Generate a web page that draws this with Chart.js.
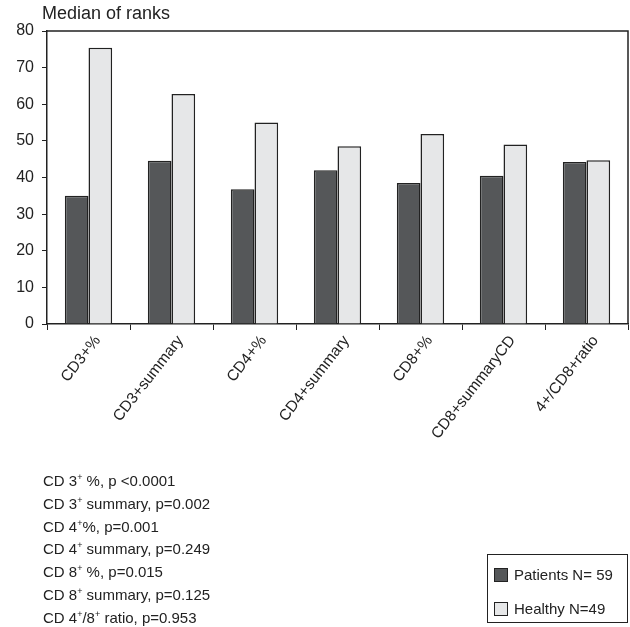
<!DOCTYPE html>
<html>
<head>
<meta charset="utf-8">
<script src="https://cdn.jsdelivr.net/npm/chart.js@4"></script>
<style>
  body { margin: 0; background: #fff; font-family: "Liberation Sans", Arial, sans-serif; color: #222; }
  #wrap { position: relative; width: 630px; height: 627px; }
  #notes { position: absolute; left: 43px; top: 470px; font-size: 15px; line-height: 22.8px; }
  #notes sup { font-size: 9px; vertical-align: 6px; line-height: 0; }
  #legend { position: absolute; left: 487px; top: 554px; width: 139px; height: 67px; border: 1px solid #222; font-size: 15px; }
  .item { position: absolute; left: 6px; display: flex; align-items: center; }
  .box { width: 14px; height: 14px; border: 1.5px solid #222; margin-right: 6px; box-sizing: border-box; }
</style>
</head>
<body>
<div id="wrap">
  <canvas id="chart" width="630" height="627"></canvas>
  <div id="notes">
    CD 3<sup>+</sup> %, p &lt;0.0001<br>
    CD 3<sup>+</sup> summary, p=0.002<br>
    CD 4<sup>+</sup>%, p=0.001<br>
    CD 4<sup>+</sup> summary, p=0.249<br>
    CD 8<sup>+</sup> %, p=0.015<br>
    CD 8<sup>+</sup> summary, p=0.125<br>
    CD 4<sup>+</sup>/8<sup>+</sup> ratio, p=0.953
  </div>
  <div id="legend">
    <div class="item" style="top:11px"><div class="box" style="background:#555759"></div>Patients N= 59</div>
    <div class="item" style="top:45px"><div class="box" style="background:#e6e7e8"></div>Healthy N=49</div>
  </div>
</div>
<script>
const categories = ["CD3+%", "CD3+summary", "CD4+%", "CD4+summary", "CD8+%", "CD8+summaryCD", "4+/CD8+ratio"];
const patients = [35.0, 44.6, 36.8, 42.0, 38.5, 40.5, 44.2];
const healthy = [75.4, 62.8, 55.0, 48.5, 51.9, 49.0, 44.7];
const yTicks = [0, 10, 20, 30, 40, 50, 60, 70, 80];

const font = "Liberation Sans";

// title above the axis and frame on the top/right
const extras = {
  id: "extras",
  afterDraw(chart) {
    const { ctx, chartArea } = chart;
    ctx.save();
    ctx.strokeStyle = "#222";
    ctx.lineWidth = 1.5;
    ctx.beginPath();
    ctx.moveTo(chartArea.left, chartArea.top);
    ctx.lineTo(chartArea.right, chartArea.top);
    ctx.lineTo(chartArea.right, chartArea.bottom);
    ctx.stroke();
    ctx.fillStyle = "#222";
    ctx.font = "18px " + font;
    ctx.textBaseline = "middle";
    ctx.fillText("Median of ranks", 42, 14);
    ctx.restore();
  }
};

new Chart(document.getElementById("chart"), {
  type: "bar",
  data: {
    labels: categories,
    datasets: [
      { label: "Patients N= 59", data: patients, backgroundColor: "#555759", borderColor: "#222", borderWidth: 1.5 },
      { label: "Healthy N=49", data: healthy, backgroundColor: "#e6e7e8", borderColor: "#222", borderWidth: 1.5 }
    ]
  },
  options: {
    responsive: false,
    animation: false,
    layout: { padding: { top: 31, right: 2 } },
    datasets: { bar: { categoryPercentage: 0.57, barPercentage: 1.0 } },
    plugins: { legend: { display: false }, tooltip: { enabled: false } },
    scales: {
      x: {
        afterFit(s) { s.height = 303; },
        grid: { offset: true, drawOnChartArea: false, color: "#222", tickLength: 6 },
        border: { color: "#222", width: 1.5 },
        ticks: { minRotation: 52, maxRotation: 52, labelOffset: 9, color: "#222", font: { family: font, size: 15.5 }, padding: 2 }
      },
      y: {
        min: 0, max: 80,
        afterFit(s) { s.width = 47; },
        afterBuildTicks(s) { s.ticks = yTicks.map(v => ({ value: v })); },
        grid: { drawOnChartArea: false, color: "#222", tickLength: 5 },
        border: { color: "#222", width: 1.5 },
        ticks: { color: "#222", font: { family: font, size: 16 }, padding: 8 }
      }
    }
  },
  plugins: [extras]
});
</script>
</body>
</html>
